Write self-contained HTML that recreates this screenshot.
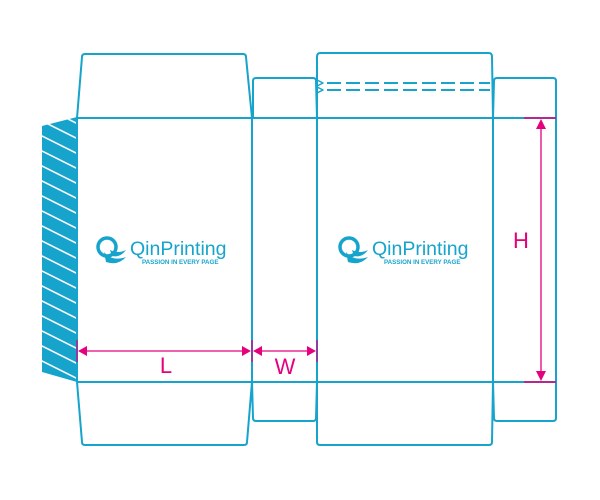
<!DOCTYPE html>
<html><head><meta charset="utf-8"><style>html,body{margin:0;padding:0;background:#fff}svg{display:block}</style></head>
<body>
<svg width="600" height="500" viewBox="0 0 600 500" xmlns="http://www.w3.org/2000/svg">
<defs>
<clipPath id="gc"><polygon points="42,126 77,117 77,382 42,372"/></clipPath>
</defs>
<g fill="none" stroke="#17a4cc" stroke-width="2" stroke-linejoin="round">
<polygon points="42,126 77,117 77,382 42,372" fill="#17a4cc" stroke="none"/>
<g clip-path="url(#gc)" stroke="#fff" stroke-width="1.6">
<line x1="30" y1="100" x2="90" y2="130"/><line x1="30" y1="115" x2="90" y2="145"/><line x1="30" y1="130" x2="90" y2="160"/><line x1="30" y1="145" x2="90" y2="175"/><line x1="30" y1="160" x2="90" y2="190"/><line x1="30" y1="175" x2="90" y2="205"/><line x1="30" y1="190" x2="90" y2="220"/><line x1="30" y1="205" x2="90" y2="235"/><line x1="30" y1="220" x2="90" y2="250"/><line x1="30" y1="235" x2="90" y2="265"/><line x1="30" y1="250" x2="90" y2="280"/><line x1="30" y1="265" x2="90" y2="295"/><line x1="30" y1="280" x2="90" y2="310"/><line x1="30" y1="295" x2="90" y2="325"/><line x1="30" y1="310" x2="90" y2="340"/><line x1="30" y1="325" x2="90" y2="355"/><line x1="30" y1="340" x2="90" y2="370"/><line x1="30" y1="355" x2="90" y2="385"/><line x1="30" y1="370" x2="90" y2="400"/>
</g>
<line x1="77" y1="118" x2="557" y2="118"/>
<line x1="77" y1="382" x2="557" y2="382"/>
<line x1="77" y1="118" x2="77" y2="382"/>
<line x1="252" y1="118" x2="252" y2="382"/>
<line x1="317" y1="118" x2="317" y2="382"/>
<line x1="493" y1="118" x2="493" y2="382"/>
<line x1="556" y1="118" x2="556" y2="382"/>
<path d="M77,118 L82,57 Q82,54 85,54 L243,54 Q246,54 246,57 L252,118"/>
<path d="M253,118 L253,81 Q253,78 256,78 L313,78 Q316,78 316,81 L317,118"/>
<path d="M317,118 L317,57 Q317,53 320,53 L489,53 Q492,53 492,57 L493,118"/>
<path d="M493,118 L494,81 Q494,78 497,78 L553,78 Q556,78 556,81 L556,118"/>
<path d="M77,382 L82,442 Q82,445 85,445 L244,445 Q247,445 247,442 L252,382"/>
<path d="M252,382 L253,418 Q253,421 256,421 L313,421 Q316,421 316,418 L317,382"/>
<path d="M317,382 L317,442 Q317,445 320,445 L489,445 Q492,445 492,442 L493,382"/>
<path d="M493,382 L494,418 Q494,421 497,421 L553,421 Q556,421 556,418 L556,382"/>
<path d="M317,80 L323,83 L317,86 M317,87 L323,90 L317,93" stroke-width="1.5"/>
<line x1="327" y1="83" x2="490" y2="83" stroke-dasharray="14,5" stroke-width="2"/>
<line x1="327" y1="90" x2="490" y2="90" stroke-dasharray="14,5" stroke-width="2"/>
</g>
<g stroke="#e5007d" fill="#e5007d">
<line x1="77" y1="340" x2="77" y2="362" stroke-width="1.5" stroke="#b0208f"/>
<line x1="252" y1="340" x2="252" y2="362" stroke-width="1.5" stroke="#b0208f"/>
<line x1="317" y1="340" x2="317" y2="362" stroke-width="1.5" stroke="#b0208f"/>
<line x1="86" y1="351" x2="243" y2="351" stroke-width="1.3"/>
<polygon points="78,351 87,346 87,356" stroke="none"/>
<polygon points="251,351 242,346 242,356" stroke="none"/>
<line x1="262" y1="351" x2="308" y2="351" stroke-width="1.3"/>
<polygon points="253,351 262,346 262,356" stroke="none"/>
<polygon points="316,351 307,346 307,356" stroke="none"/>
<line x1="524" y1="118" x2="556" y2="118" stroke-width="1.5"/>
<line x1="524" y1="382" x2="556" y2="382" stroke-width="1.5"/>
<line x1="541" y1="128" x2="541" y2="372" stroke-width="1.3"/>
<polygon points="541,119 536,129 546,129" stroke="none"/>
<polygon points="541,381 536,371 546,371" stroke="none"/>
</g>
<g font-family="Liberation Sans, sans-serif" fill="#e5007d" font-size="22">
<text x="166" y="373" text-anchor="middle">L</text>
<text x="285" y="374" text-anchor="middle">W</text>
<text x="521" y="248" text-anchor="middle">H</text>
</g>
<g id="logo" fill="#17a4cc">
<circle cx="107" cy="247" r="9" fill="none" stroke="#17a4cc" stroke-width="3.5"/>
<path d="M104,252 Q112,262 126,257 Q118,266 106,262 Z"/>
<path d="M110,250 Q118,254 126,250 Q120,258 112,256 Z"/>
<text x="130" y="255" font-family="Liberation Sans, sans-serif" font-size="19.5">QinPrinting</text>
<text x="142" y="264" font-family="Liberation Sans, sans-serif" font-size="6.2" font-weight="bold">PASSION IN EVERY PAGE</text>
</g>
<use href="#logo" x="242" y="0"/>
</svg>
</body></html>
